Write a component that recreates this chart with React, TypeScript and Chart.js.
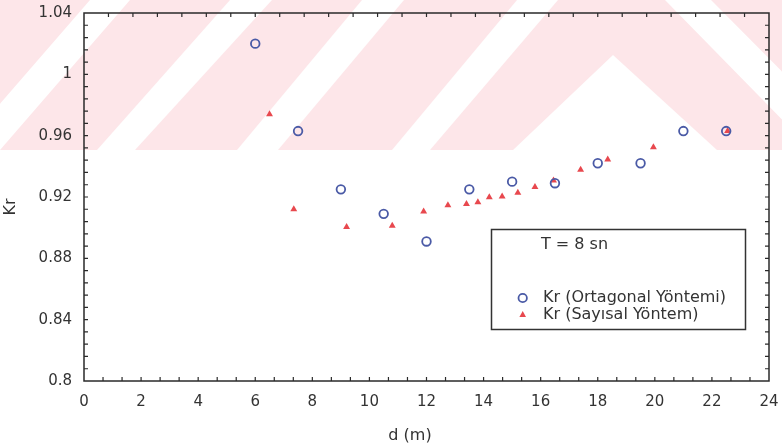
import React, { useEffect, useRef } from 'react';
import { Chart, registerables } from 'chart.js';

Chart.register(...registerables);

// ---- data ----
const ortagonalD = [6, 7.5, 9, 10.5, 12, 13.5, 15, 16.5, 18, 19.5, 21, 22.5];
const ortagonalKr = [1.02, 0.963, 0.925, 0.909, 0.891, 0.925, 0.93, 0.929, 0.942, 0.942, 0.963, 0.963];
const sayisalD = [6.5, 7.35, 9.2, 10.8, 11.9, 12.75, 13.4, 13.8, 14.2, 14.65, 15.2, 15.8, 16.45, 17.4, 18.35, 19.95, 22.55];
const sayisalKr = [0.974, 0.912, 0.9005, 0.9013, 0.9105, 0.9146, 0.9155, 0.9166, 0.9198, 0.9204, 0.9227, 0.9266, 0.9307, 0.9377, 0.9444, 0.9525, 0.963];
const seriesLabels = ['Kr (Ortagonal Yöntemi)', 'Kr (Sayısal Yöntem)'];
const legendTitle = 'T = 8 sn';
const xTitle = 'd (m)';
const yTitle = 'Kr';
const xRange = [0, 24];
const yRange = [0.8, 1.04];
const xStep = 2;
const yStep = 0.04;

const FONT = '"DejaVu Sans", sans-serif';
const TEXT = '#333333';
const BLUE = '#4a5aa6';
const RED = '#e8484e';
const PINK = '#fde6e9';

const watermark = {
  id: 'watermark',
  beforeDraw(chart: any) {
    const ctx = chart.ctx;
    ctx.save();
    ctx.fillStyle = '#ffffff';
    ctx.fillRect(0, 0, chart.width, chart.height);
    ctx.fillStyle = PINK;
    ctx.fillRect(0, 0, chart.width, 150);
    ctx.fillStyle = '#ffffff';
    const polys = [
      [[90, 0], [130, 0], [0, 150], [-40, 150]],
      [[230, 0], [272, 0], [135, 150], [97, 150]],
      [[362, 0], [404, 0], [278, 150], [237, 150]],
      [[517, 0], [558, 0], [430, 150], [392, 150]],
      [[613, 55], [717, 150], [513, 150]],
      [[665, 0], [711, 0], [860, 150], [812, 150]],
    ];
    for (const p of polys) {
      ctx.beginPath();
      ctx.moveTo(p[0][0], p[0][1]);
      for (let i = 1; i < p.length; i++) ctx.lineTo(p[i][0], p[i][1]);
      ctx.closePath();
      ctx.fill();
    }
    ctx.restore();
  },
};

const frame = {
  id: 'frame',
  afterDraw(chart: any) {
    const ctx = chart.ctx;
    const { left, right, top, bottom } = chart.chartArea;
    ctx.save();
    ctx.strokeStyle = '#2a2a2a';
    ctx.lineWidth = 1.5;
    ctx.strokeRect(left, top, right - left, bottom - top);
    ctx.lineWidth = 1.2;
    const tl = 4;
    ctx.beginPath();
    const nb = 36, nt = 28, nl = 30;
    for (let i = 1; i < nb; i++) {
      const x = left + ((right - left) * i) / nb;
      ctx.moveTo(x, bottom); ctx.lineTo(x, bottom - tl);
    }
    for (let i = 1; i < nt; i++) {
      const x = left + ((right - left) * i) / nt;
      ctx.moveTo(x, top); ctx.lineTo(x, top + tl);
    }
    for (let i = 1; i < nl; i++) {
      const y = top + ((bottom - top) * i) / nl;
      ctx.moveTo(left, y); ctx.lineTo(left + tl, y);
      ctx.moveTo(right, y); ctx.lineTo(right - tl, y);
    }
    ctx.stroke();

    // axis titles
    ctx.fillStyle = TEXT;
    ctx.font = `16px ${FONT}`;
    ctx.textAlign = 'center';
    ctx.textBaseline = 'middle';
    ctx.fillText(xTitle, 410, 436);
    ctx.save();
    ctx.translate(11, 207);
    ctx.rotate(-Math.PI / 2);
    ctx.fillText(yTitle, 0, 0);
    ctx.restore();

    // legend box
    ctx.fillStyle = '#ffffff';
    ctx.fillRect(491.5, 229.5, 254, 100);
    ctx.strokeStyle = '#333333';
    ctx.lineWidth = 1.5;
    ctx.strokeRect(491.5, 229.5, 254, 100);
    ctx.fillStyle = TEXT;
    ctx.textAlign = 'left';
    ctx.font = `16px ${FONT}`;
    ctx.fillText(legendTitle, 541, 245);
    ctx.fillText(seriesLabels[0], 543, 298);
    ctx.fillText(seriesLabels[1], 543, 315);
    // markers
    ctx.strokeStyle = BLUE;
    ctx.lineWidth = 1.8;
    ctx.beginPath();
    ctx.arc(522.7, 298, 4.2, 0, Math.PI * 2);
    ctx.stroke();
    ctx.fillStyle = RED;
    ctx.beginPath();
    ctx.moveTo(522.7, 311);
    ctx.lineTo(526, 317);
    ctx.lineTo(519.4, 317);
    ctx.closePath();
    ctx.fill();
    ctx.restore();
  },
};

export default function App() {
  const ref = useRef<HTMLCanvasElement | null>(null);
  useEffect(() => {
    if (!ref.current) return;
    const chart = new Chart(ref.current, {
      type: 'scatter',
      data: {
        datasets: [
          {
            label: seriesLabels[0],
            data: ortagonalD.map((d, i) => ({ x: d, y: ortagonalKr[i] })),
            pointStyle: 'circle',
            pointRadius: 4.3,
            borderColor: BLUE,
            backgroundColor: 'rgba(0,0,0,0)',
            borderWidth: 1.8,
          },
          {
            label: seriesLabels[1],
            data: sayisalD.map((d, i) => ({ x: d, y: sayisalKr[i] })),
            pointStyle: 'triangle',
            pointRadius: 4,
            borderColor: RED,
            backgroundColor: RED,
            borderWidth: 0,
          },
        ],
      },
      plugins: [watermark, frame],
      options: {
        animation: false,
        responsive: false,
        maintainAspectRatio: false,
        layout: { padding: { top: 13, right: 13, left: 0, bottom: 0 } },
        plugins: { legend: { display: false }, tooltip: { enabled: false } },
        scales: {
          x: {
            type: 'linear',
            min: xRange[0],
            max: xRange[1],
            grid: { display: false, drawTicks: false },
            border: { display: false },
            ticks: {
              stepSize: xStep,
              color: TEXT,
              font: { family: FONT, size: 15 },
              padding: 12,
              maxRotation: 0,
            },
            afterFit: (s: any) => {
              s.height = 66;
              s.paddingLeft = 0;
              s.paddingRight = 0;
            },
          },
          y: {
            type: 'linear',
            min: yRange[0],
            max: yRange[1],
            grid: { display: false, drawTicks: false },
            border: { display: false },
            ticks: {
              stepSize: yStep,
              color: TEXT,
              font: { family: FONT, size: 15 },
              padding: 12,
              callback: (v: any) => String(parseFloat(Number(v).toFixed(2))),
            },
            afterFit: (s: any) => {
              s.width = 84;
              s.paddingTop = 0;
              s.paddingBottom = 0;
            },
          },
        },
      },
    });
    return () => chart.destroy();
  }, []);
  return (
    <div style={{ position: 'fixed', left: 0, top: 0, width: 782, height: 447, background: '#fff' }}>
      <canvas ref={ref} width={782} height={447} style={{ width: 782, height: 447, display: 'block' }} />
    </div>
  );
}
